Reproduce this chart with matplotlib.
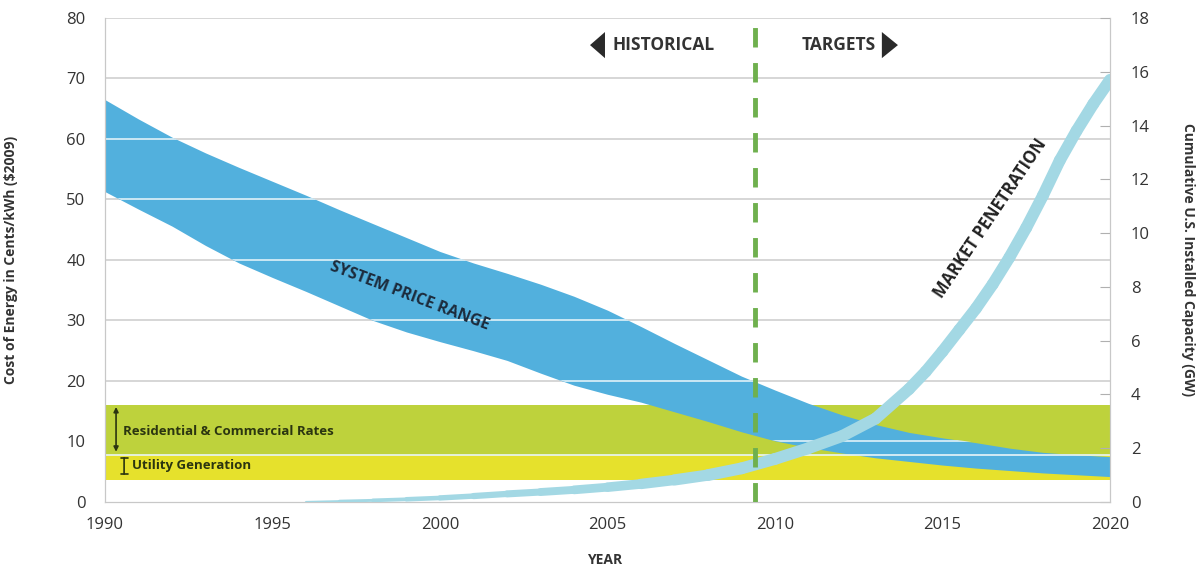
import matplotlib
matplotlib.use("Agg")
import numpy as np
import matplotlib.pyplot as plt
from matplotlib.patches import Polygon
from matplotlib.collections import LineCollection

plt.rcParams['font.family'] = ['Open Sans', 'DejaVu Sans']

# Banda de precios del sistema (centavos/kWh, $2009)
years = list(range(1990, 2021))
price_high = [66.5, 63.3, 60.3, 57.7, 55.3, 53.0, 50.7, 48.3, 46.0, 43.7,
              41.4, 39.5, 37.8, 36.0, 34.0, 31.7, 29.0, 26.2, 23.5, 20.8,
              18.5, 16.3, 14.4, 12.8, 11.5, 10.6, 9.8, 8.9, 8.2, 7.8, 7.5]
price_low = [51.3, 48.4, 45.6, 42.4, 39.5, 37.1, 34.8, 32.4, 30.0, 28.1,
             26.5, 25.0, 23.4, 21.3, 19.3, 17.8, 16.5, 14.9, 13.3, 11.6,
             10.1, 9.0, 8.1, 7.3, 6.7, 6.1, 5.6, 5.2, 4.8, 4.5, 4.2]

# Tarifas (centavos/kWh)
res_rates = (7.7, 16.0)
utility_gen = (3.6, 7.7)

# Capacidad instalada acumulada (GW)
mp_years = [1996, 1997, 1998, 1999, 2000, 2001, 2002, 2003, 2004, 2005,
            2006, 2007, 2008, 2009, 2010, 2011, 2012, 2013, 2014, 2014.5,
            2015, 2015.5, 2016, 2016.5, 2017, 2017.5, 2018, 2018.5, 2019, 2019.5, 2020]
mp_gw = [0.0, 0.03, 0.06, 0.1, 0.15, 0.22, 0.3, 0.37, 0.45, 0.55,
         0.67, 0.82, 1.0, 1.25, 1.6, 2.0, 2.45, 3.1, 4.2, 4.85,
         5.6, 6.4, 7.2, 8.1, 9.1, 10.2, 11.4, 12.7, 13.8, 14.8, 15.7]

split_year = 2009.4
left_ticks = [0, 10, 20, 30, 40, 50, 60, 70, 80]
right_ticks = [0, 2, 4, 6, 8, 10, 12, 14, 16, 18]
x_ticks = [1990, 1995, 2000, 2005, 2010, 2015, 2020]

txt = '#333333'
grid_c = '#cfcfcf'

fig = plt.figure(figsize=(12, 5.69), dpi=100)
ax = fig.add_axes([0.0875, 0.1178, 0.8375, 0.8506])
ax.set_xlim(1990, 2020)
ax.set_ylim(0, 80)

# lineas de la cuadricula
for v in left_ticks[1:]:
    ax.axhline(v, color=grid_c, lw=1.2, zorder=0.5)

# bandas de tarifas
ax.axhspan(*res_rates, color='#bed23c', lw=0, zorder=1)
ax.axhspan(*utility_gen, color='#e6e12c', lw=0, zorder=1)

# banda de precios
band = ax.fill_between(years, price_low, price_high, color='#52b0dd', lw=0, zorder=2)
clip = band.get_paths()[0]
for v in left_ticks[1:]:
    ln = ax.axhline(v, color='#dff1f8', lw=1.2, zorder=2.5)
    ln.set_clip_path(clip, transform=ax.transData)
ax.axhline(res_rates[0], color='#e9f5f8', lw=1.2, zorder=2.6)

ax.set_xticks(x_ticks)
ax.set_yticks(left_ticks)
ax.tick_params(axis='both', length=0, labelsize=12, colors=txt)
ax.tick_params(axis='y', pad=14)
ax.tick_params(axis='x', pad=11)
for s in ['left', 'bottom', 'right']:
    ax.spines[s].set_color('#c8c8c8')
ax.spines['top'].set_visible(False)

ax.set_ylabel('Cost of Energy in Cents/kWh ($2009)', fontsize=10, fontweight='bold', color=txt)
ax.yaxis.set_label_coords(-0.087, 0.5)
ax.set_xlabel('YEAR', fontsize=10, fontweight='bold', color=txt, va='center')
ax.xaxis.set_label_coords(0.497, -0.12)

# eje derecho: penetracion de mercado
ax2 = ax.twinx()
ax2.set_ylim(0, 18)
ax2.set_yticks(right_ticks)
pts = np.column_stack([mp_years, mp_gw])
segs = np.stack([pts[:-1], pts[1:]], axis=1)
widths = [min(8.5, 1.5 + 0.6 * (y - 1996)) for y in mp_years[:-1]]
ax2.add_collection(LineCollection(segs, colors='#a3d8e4', linewidths=widths,
                                  capstyle='round', joinstyle='round', zorder=3))
ax2.tick_params(axis='y', direction='in', length=7, color='#b0b0b0', labelsize=12,
                labelcolor=txt, pad=15)
for s in ['left', 'bottom', 'right']:
    ax2.spines[s].set_color('#c8c8c8')
ax2.spines['top'].set_visible(False)
ax2.set_ylabel('Cumulative U.S. Installed Capacity (GW)', fontsize=10, fontweight='bold',
               color=txt, rotation=-90, va='center')
ax2.yaxis.set_label_coords(1.0776, 0.5)

ax2.axvline(split_year, color='#6fb04e', lw=3.5, dashes=(4, 3.2), zorder=5)

# rotulos
ax.text(1999.1, 34.0, 'SYSTEM PRICE RANGE', rotation=-20.7, rotation_mode='anchor',
        ha='center', va='center', fontsize=11.5, fontweight='bold', color='#1c2b3c', zorder=6)
ax2.text(2016.42, 46.9 * 18 / 80, 'MARKET PENETRATION', rotation=56, rotation_mode='anchor',
         ha='center', va='center', fontsize=12, fontweight='bold', color='#222222', zorder=6)

ax2.text(0.5045, 0.944, 'HISTORICAL', transform=ax.transAxes, ha='left', va='center',
         fontsize=12.5, fontweight='bold', color=txt)
ax2.text(0.767, 0.944, 'TARGETS', transform=ax.transAxes, ha='right', va='center',
         fontsize=12.5, fontweight='bold', color=txt)
ax2.add_patch(Polygon([(0.4826, 0.944), (0.4975, 0.971), (0.4975, 0.917)], closed=True,
                      transform=ax.transAxes, color='#2a2a2a', lw=0))
ax2.add_patch(Polygon([(0.789, 0.944), (0.773, 0.971), (0.773, 0.917)], closed=True,
                      transform=ax.transAxes, color='#2a2a2a', lw=0))

ax.annotate('', xy=(1990.33, 15.7), xytext=(1990.33, 8.3),
            arrowprops=dict(arrowstyle='<|-|>', color='#2b3510', lw=1.2,
                            mutation_scale=7, shrinkA=0, shrinkB=0), zorder=7)
ax.text(1990.55, 11.6, 'Residential & Commercial Rates', ha='left', va='center',
        fontsize=9.5, fontweight='bold', color='#2b3510', zorder=7)
ax.annotate('', xy=(1990.57, 7.3), xytext=(1990.57, 4.6),
            arrowprops=dict(arrowstyle='|-|', color='#2b3510', lw=1.2,
                            mutation_scale=2.5, shrinkA=0, shrinkB=0), zorder=7)
ax.text(1990.82, 5.95, 'Utility Generation', ha='left', va='center',
        fontsize=9.5, fontweight='bold', color='#2b3510', zorder=7)

fig.savefig('out.png', dpi=100)
